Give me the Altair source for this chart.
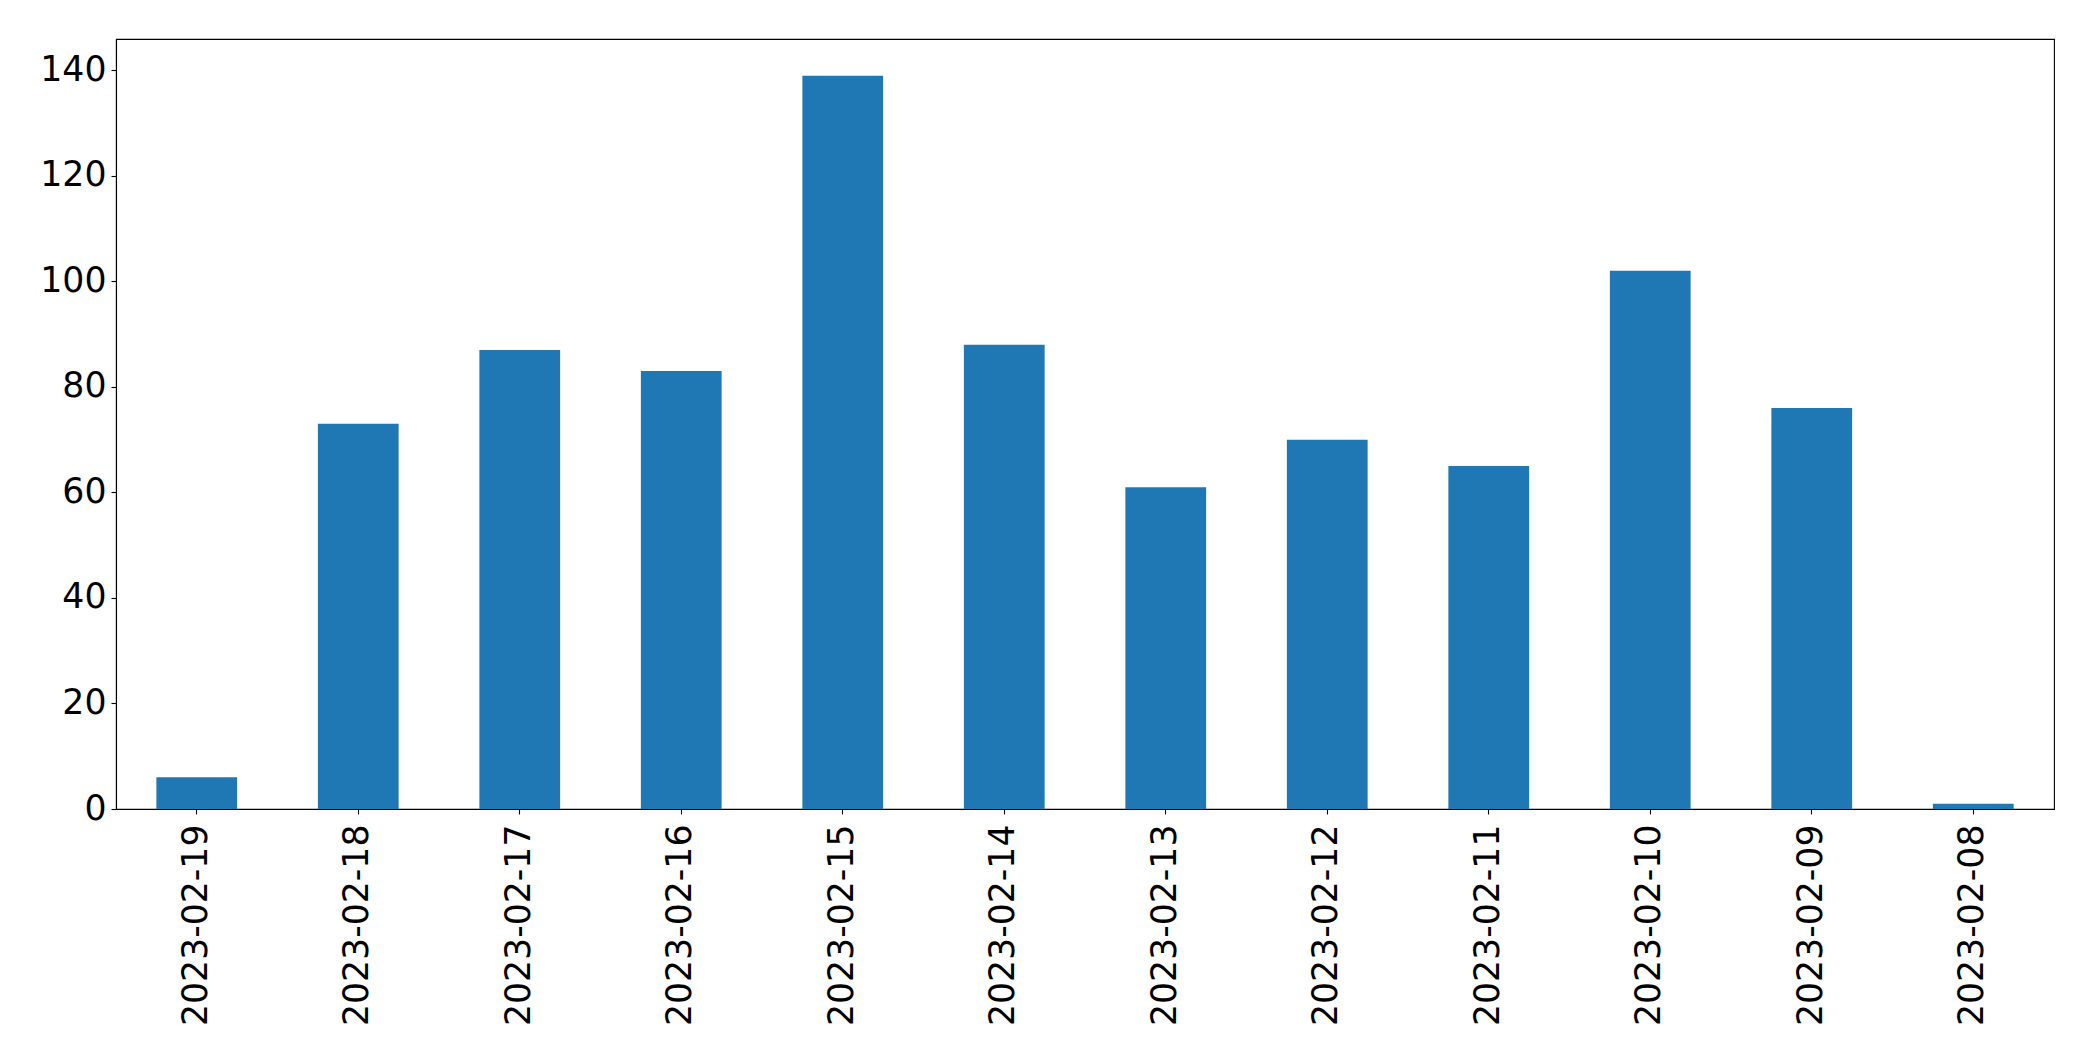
import altair as alt
import pandas as pd

dates = ["2023-02-19", "2023-02-18", "2023-02-17", "2023-02-16", "2023-02-15", "2023-02-14",
         "2023-02-13", "2023-02-12", "2023-02-11", "2023-02-10", "2023-02-09", "2023-02-08"]
counts = [6, 73, 87, 83, 139, 88, 61, 70, 65, 102, 76, 1]
y_ticks = [0, 20, 40, 60, 80, 100, 120, 140]

df = pd.DataFrame({"date": dates, "count": counts})

font = "DejaVu Sans"
fs = 34.7

chart = alt.Chart(df).mark_bar(color="#1f77b4").encode(
    x=alt.X("date:N", sort=None, title=None,
            scale=alt.Scale(paddingInner=0.5, paddingOuter=0.25),
            axis=alt.Axis(labelAngle=270, labelFontSize=fs, labelFont=font, labelColor="black",
                          labelLimit=0,
                          tickColor="black", tickSize=5, tickWidth=1.1, labelPadding=10,
                          domainColor="black", domainWidth=1.1, grid=False)),
    y=alt.Y("count:Q", title=None,
            scale=alt.Scale(domain=[0, 145.95], nice=False, zero=True),
            axis=alt.Axis(values=y_ticks, labelFontSize=fs, labelFont=font, labelColor="black",
                          tickColor="black", tickSize=5, tickWidth=1.1, labelPadding=5,
                          domainColor="black", domainWidth=1.1, grid=False)),
).properties(
    width=1938, height=770,
    autosize=alt.AutoSizeParams(type="none"),
    padding={"left": 108, "top": 31, "right": 25, "bottom": 230},
).configure(background="white").configure_view(stroke="black", strokeWidth=1.1)

chart.save("out.html", embed_options={"renderer": "svg", "actions": False})
